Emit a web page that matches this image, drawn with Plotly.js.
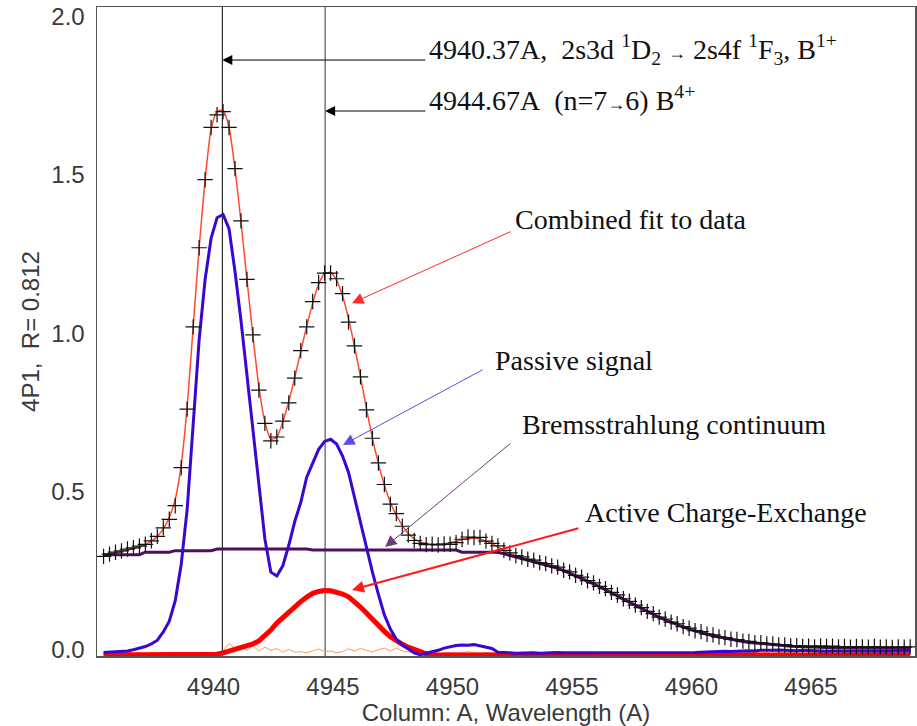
<!DOCTYPE html>
<html>
<head>
<meta charset="utf-8">
<script src="https://cdn.plot.ly/plotly-3.0.1.min.js"></script>
<style>html,body{margin:0;padding:0;background:#fff;}#chart{width:917px;height:726px;}</style>
</head>
<body>
<div id="chart"></div>
<script>
// Wavelength grid (Angstrom)
const wavelength = [
4935.40,4935.65,4935.90,4936.15,4936.40,4936.65,4936.90,4937.15,4937.40,4937.65,
4937.90,4938.15,4938.40,4938.65,4938.90,4939.15,4939.40,4939.65,4939.90,4940.15,
4940.40,4940.65,4940.90,4941.15,4941.40,4941.65,4941.90,4942.15,4942.40,4942.65,
4942.90,4943.15,4943.40,4943.65,4943.90,4944.15,4944.40,4944.65,4944.90,4945.15,
4945.40,4945.65,4945.90,4946.15,4946.40,4946.65,4946.90,4947.15,4947.40,4947.65,
4947.90,4948.15,4948.40,4948.65,4948.90,4949.15,4949.40,4949.65,4949.90,4950.15,
4950.40,4950.65,4950.90,4951.15,4951.40,4951.65,4951.90,4952.15,4952.40,4952.65,
4952.90,4953.15,4953.40,4953.65,4953.90,4954.15,4954.40,4954.65,4954.90,4955.15,
4955.40,4955.65,4955.90,4956.15,4956.40,4956.65,4956.90,4957.15,4957.40,4957.65,
4957.90,4958.15,4958.40,4958.65,4958.90,4959.15,4959.40,4959.65,4959.90,4960.15,
4960.40,4960.65,4960.90,4961.15,4961.40,4961.65,4961.90,4962.15,4962.40,4962.65,
4962.90,4963.15,4963.40,4963.65,4963.90,4964.15,4964.40,4964.65,4964.90,4965.15,
4965.40,4965.65,4965.90,4966.15,4966.40,4966.65,4966.90,4967.15,4967.40,4967.65,
4967.90,4968.15,4968.40,4968.65,4968.90,4969.15];

// Measured data (crosses)
const measured = [
0.295,0.302,0.308,0.312,0.318,0.322,0.327,0.333,0.344,0.358,
0.385,0.412,0.455,0.575,0.76,1.02,1.27,1.485,1.65,1.69,
1.70,1.65,1.52,1.355,1.17,0.995,0.82,0.715,0.66,0.672,
0.722,0.78,0.858,0.945,1.02,1.10,1.16,1.19,1.19,1.172,
1.125,1.035,0.96,0.862,0.758,0.668,0.59,0.522,0.46,0.43,
0.39,0.362,0.345,0.336,0.332,0.333,0.331,0.334,0.333,0.338,
0.349,0.356,0.354,0.355,0.343,0.336,0.328,0.314,0.306,0.297,
0.293,0.286,0.283,0.275,0.272,0.265,0.261,0.251,0.246,0.235,
0.229,0.218,0.211,0.200,0.193,0.181,0.173,0.161,0.153,0.141,
0.133,0.121,0.114,0.103,0.097,0.087,0.082,0.073,0.068,0.060,
0.057,0.049,0.047,0.040,0.038,0.033,0.032,0.027,0.026,0.022,
0.022,0.018,0.018,0.015,0.015,0.012,0.013,0.010,0.011,0.009,
0.012,0.010,0.011,0.009,0.010,0.008,0.010,0.009,0.008,0.010,
0.008,0.009,0.007,0.009,0.008,0.009];

// Combined fit to data
const combinedFit = [
0.298,0.303,0.307,0.311,0.315,0.320,0.326,0.333,0.343,0.358,
0.382,0.418,0.475,0.585,0.77,1.02,1.27,1.485,1.645,1.70,
1.705,1.65,1.52,1.352,1.17,0.992,0.83,0.72,0.665,0.672,
0.72,0.785,0.86,0.942,1.022,1.095,1.155,1.188,1.192,1.168,
1.118,1.045,0.958,0.862,0.762,0.668,0.588,0.52,0.465,0.425,
0.392,0.367,0.35,0.34,0.335,0.333,0.333,0.335,0.338,0.342,
0.348,0.352,0.353,0.35,0.343,0.335,0.325,0.314,0.305,0.297,
0.291,0.286,0.281,0.276,0.271,0.265,0.259,0.252,0.244,0.236,
0.228,0.219,0.21,0.201,0.192,0.182,0.172,0.162,0.152,0.142,
0.132,0.122,0.113,0.104,0.096,0.088,0.081,0.074,0.067,0.061,
0.056,0.051,0.046,0.042,0.038,0.034,0.031,0.028,0.025,0.023,
0.021,0.019,0.017,0.016,0.014,0.013,0.012,0.011,0.010,0.010,
0.009,0.009,0.009,0.008,0.008,0.008,0.008,0.007,0.007,0.007,
0.007,0.007,0.007,0.007,0.007,0.007];

// Passive signal
const passiveSignal = [
-0.009,-0.008,-0.007,-0.006,-0.004,0.0,0.005,0.01,0.018,0.03,
0.056,0.09,0.155,0.27,0.445,0.70,0.98,1.17,1.30,1.365,
1.375,1.33,1.195,1.04,0.865,0.70,0.53,0.35,0.245,0.233,
0.265,0.33,0.405,0.465,0.545,0.59,0.633,0.658,0.665,0.65,
0.612,0.56,0.48,0.405,0.33,0.245,0.175,0.11,0.065,0.033,
0.015,0.002,-0.01,-0.016,-0.012,-0.008,-0.002,0.005,0.01,0.013,
0.015,0.014,0.016,0.012,0.01,0.004,-0.008,-0.01,-0.01,-0.011,
-0.01,-0.009,-0.01,-0.011,-0.01,-0.01,-0.009,-0.01,-0.011,-0.01,
-0.01,-0.01,-0.009,-0.011,-0.01,-0.01,-0.01,-0.009,-0.01,-0.01,
-0.011,-0.01,-0.01,-0.009,-0.01,-0.01,-0.011,-0.01,-0.01,-0.009,
-0.008,-0.007,-0.006,-0.006,-0.005,-0.006,-0.004,-0.004,-0.003,-0.004,
-0.002,-0.003,-0.002,-0.001,-0.002,-0.002,-0.003,-0.002,-0.003,-0.004,
-0.004,-0.005,-0.004,-0.005,-0.004,-0.004,-0.005,-0.004,-0.004,-0.005,
-0.004,-0.005,-0.004,-0.004,-0.005,-0.004];

// Bremsstrahlung continuum
const bremsstrahlung = [
0.300,0.300,0.300,0.300,0.300,0.300,0.300,0.308,0.308,0.308,
0.308,0.308,0.313,0.313,0.313,0.313,0.313,0.313,0.313,0.318,
0.318,0.318,0.318,0.318,0.318,0.318,0.318,0.318,0.318,0.318,
0.318,0.318,0.318,0.318,0.318,0.315,0.315,0.315,0.315,0.315,
0.315,0.315,0.315,0.315,0.315,0.315,0.315,0.315,0.315,0.315,
0.315,0.315,0.315,0.315,0.315,0.315,0.315,0.315,0.315,0.315,
0.308,0.308,0.308,0.308,0.308,0.308,0.308,0.303,0.298,0.294,
0.289,0.284,0.279,0.274,0.269,0.263,0.257,0.25,0.242,0.234,
0.226,0.217,0.208,0.199,0.19,0.18,0.17,0.16,0.15,0.14,
0.13,0.12,0.111,0.102,0.094,0.086,0.079,0.072,0.065,0.059,
0.054,0.049,0.044,0.04,0.036,0.032,0.029,0.026,0.023,0.021,
0.019,0.017,0.015,0.014,0.012,0.011,0.01,0.009,0.008,0.008,
0.007,0.007,0.006,0.006,0.006,0.005,0.005,0.005,0.005,0.004,
0.004,0.004,0.004,0.004,0.004,0.004];

// Active charge-exchange component
const activeCX = [
-0.017,-0.017,-0.017,-0.017,-0.017,-0.017,-0.017,-0.017,-0.017,-0.017,
-0.017,-0.017,-0.017,-0.017,-0.017,-0.017,-0.017,-0.017,-0.017,-0.014,
-0.01,-0.004,0.002,0.006,0.010,0.018,0.028,0.044,0.062,0.084,
0.102,0.118,0.136,0.152,0.166,0.178,0.184,0.187,0.186,0.182,
0.176,0.167,0.152,0.135,0.116,0.095,0.077,0.058,0.041,0.028,
0.017,0.008,0.0,-0.008,-0.013,-0.016,-0.017,-0.017,-0.017,-0.017,
-0.017,-0.017,-0.017,-0.017,-0.017,-0.017,-0.017,-0.017,-0.017,-0.017,
-0.017,-0.017,-0.017,-0.017,-0.017,-0.017,-0.017,-0.017,-0.017,-0.017,
-0.017,-0.017,-0.017,-0.017,-0.017,-0.017,-0.017,-0.017,-0.017,-0.017,
-0.017,-0.017,-0.017,-0.017,-0.017,-0.017,-0.017,-0.017,-0.017,-0.017,
-0.017,-0.017,-0.017,-0.017,-0.017,-0.017,-0.017,-0.017,-0.017,-0.017,
-0.017,-0.017,-0.017,-0.017,-0.017,-0.017,-0.017,-0.017,-0.017,-0.017,
-0.017,-0.017,-0.017,-0.017,-0.017,-0.017,-0.017,-0.017,-0.017,-0.017,
-0.017,-0.017,-0.017,-0.017,-0.017,-0.017];

// Fit residual (thin orange)
const residual = [
-0.011,-0.010,-0.012,-0.010,-0.009,-0.011,-0.010,-0.012,-0.010,-0.009,
-0.011,-0.010,-0.010,-0.012,-0.009,-0.010,-0.011,-0.008,-0.010,-0.009,
-0.004,0.020,0.004,0.008,-0.002,0.012,-0.004,0.008,-0.002,0.004,
-0.008,0.001,-0.008,-0.006,-0.010,-0.004,0.002,-0.006,-0.004,-0.010,
-0.006,0.003,-0.004,0.004,-0.002,-0.007,0.000,0.005,-0.004,0.006,
-0.004,-0.008,-0.010,-0.011,-0.009,-0.010,-0.012,-0.010,-0.009,-0.011,
-0.010,-0.006,-0.010,-0.011,-0.009,-0.010,-0.012,-0.010,-0.009,-0.011,
-0.010,-0.012,-0.009,-0.010,-0.011,-0.006,-0.010,-0.012,-0.010,-0.009,
-0.011,-0.010,-0.010,-0.012,-0.009,-0.010,-0.011,-0.008,-0.010,-0.009,
-0.011,-0.010,-0.012,-0.010,-0.009,-0.011,-0.010,-0.012,-0.010,-0.009,
-0.011,-0.010,-0.010,-0.012,-0.009,-0.010,-0.011,-0.008,-0.010,-0.009,
-0.011,-0.010,-0.012,-0.010,-0.009,-0.011,-0.010,-0.012,-0.010,-0.009,
-0.011,-0.010,-0.010,-0.012,-0.009,-0.010,-0.011,-0.008,-0.010,-0.009,
-0.011,-0.010,-0.012,-0.010,-0.009,-0.011];

// Reference line wavelengths and axis ticks
const lineWavelengths = [4940.37, 4944.67];
const xTickVals = [4940, 4945, 4950, 4955, 4960, 4965];
const yTickVals = [0, 0.5, 1.0, 1.5, 2.0];
const yTickText = ['0.0', '0.5', '1.0', '1.5', '2.0'];

const xRange = [4935.126, 4969.351];
const yRange = [-0.0199, 2.0306];

const sansFont = 'Liberation Sans, Arial, sans-serif';
const serifFont = 'Liberation Serif, Times New Roman, serif';

const traces = [
  {x: wavelength, y: residual, type: 'scatter', mode: 'lines', line: {color: '#ff9a55', width: 1}, hoverinfo: 'skip'},
  {x: wavelength, y: activeCX, type: 'scatter', mode: 'lines', line: {color: '#ff0000', width: 5}},
  {x: wavelength, y: combinedFit, type: 'scatter', mode: 'lines', line: {color: '#ff4a30', width: 1.5, shape: 'spline', smoothing: 0.6}},
  {x: wavelength, y: bremsstrahlung, type: 'scatter', mode: 'lines', line: {color: '#4e0f5e', width: 3}},
  {x: wavelength, y: passiveSignal, type: 'scatter', mode: 'lines', line: {color: '#3a06d2', width: 3}},
  {x: wavelength, y: measured, type: 'scatter', mode: 'markers',
   marker: {symbol: 'cross-thin', size: 11, color: '#111', line: {color: '#111', width: 1.2}}}
];

const shapes = lineWavelengths.map((w, i) => ({
  type: 'line', xref: 'x', yref: 'paper', x0: w, x1: w, y0: 0, y1: 1,
  line: {color: i === 0 ? '#000' : '#333', width: 1}, layer: 'below'
}));

function arrow(tipX, tipY, tailX, tailY, color, width, size) {
  return {x: tipX, y: tipY, ax: tailX, ay: tailY, xref: 'x', yref: 'y', axref: 'x', ayref: 'y',
    text: '', showarrow: true, arrowhead: 2, arrowsize: size, arrowwidth: width, arrowcolor: color, standoff: 0, startstandoff: 0};
}
function label(x, y, text) {
  return {x: x, y: y, xref: 'x', yref: 'y', text: text, showarrow: false, xanchor: 'left', yanchor: 'middle',
    font: {family: serifFont, size: 28, color: '#111'}};
}

const arrowSpan = '<span style="font-size:18px">→</span>';

const annotations = [
  arrow(lineWavelengths[0], 1.863, 4948.93, 1.863, '#000', 1, 2),
  arrow(lineWavelengths[1], 1.702, 4948.93, 1.702, '#000', 1, 2),
  arrow(4945.795, 1.095, 4952.49, 1.323, '#ff2a2a', 1, 2.3),
  arrow(4945.42, 0.647, 4951.32, 0.887, '#5b4be0', 1, 2.3),
  arrow(4947.18, 0.3245, 4952.49, 0.656, '#6e3c78', 1, 2.3),
  arrow(4945.795, 0.189, 4955.33, 0.385, '#ff1a1a', 2, 1.2),
  label(4948.93, 1.895, '4940.37A,\u00a0 2s3d <sup>1</sup>D<sub>2</sub> ' + arrowSpan + ' 2s4f <sup>1</sup>F<sub>3</sub>, B<sup>1+</sup>'),
  label(4948.93, 1.74, '4944.67A\u00a0 (n=7' + arrowSpan + '6) B<sup>4+</sup>'),
  label(4952.53, 1.358, 'Combined fit to data'),
  label(4951.69, 0.915, 'Passive signal'),
  label(4952.82, 0.71, 'Bremsstrahlung continuum'),
  label(4955.46, 0.435, 'Active Charge-Exchange')
];

const layout = {
  width: 917, height: 726,
  margin: {l: 97, r: 2, t: 7, b: 70, pad: 0},
  paper_bgcolor: '#fff', plot_bgcolor: '#fff',
  showlegend: false,
  xaxis: {
    range: xRange, tickvals: xTickVals, showgrid: false, zeroline: false,
    ticks: 'outside', ticklen: 9, tickcolor: 'rgba(0,0,0,0)',
    showline: true, mirror: true, linecolor: '#555', linewidth: 1.5,
    tickfont: {family: sansFont, size: 24, color: '#3a3a3a'},
    title: {text: 'Column: A, Wavelength (A)', font: {family: sansFont, size: 24, color: '#3a3a3a'}, standoff: 4}
  },
  yaxis: {
    range: yRange, tickvals: yTickVals, ticktext: yTickText, showgrid: false, zeroline: false,
    ticks: 'outside', ticklen: 6, tickcolor: 'rgba(0,0,0,0)',
    showline: true, mirror: true, linecolor: '#555', linewidth: 1.5,
    tickfont: {family: sansFont, size: 24, color: '#3a3a3a'},
    title: {text: '4P1,\u00a0\u00a0R= 0.812', font: {family: sansFont, size: 24, color: '#3a3a3a'}, standoff: 5}
  },
  shapes: shapes,
  annotations: annotations
};

Plotly.newPlot('chart', traces, layout, {staticPlot: true, displayModeBar: false});
</script>
</body>
</html>
